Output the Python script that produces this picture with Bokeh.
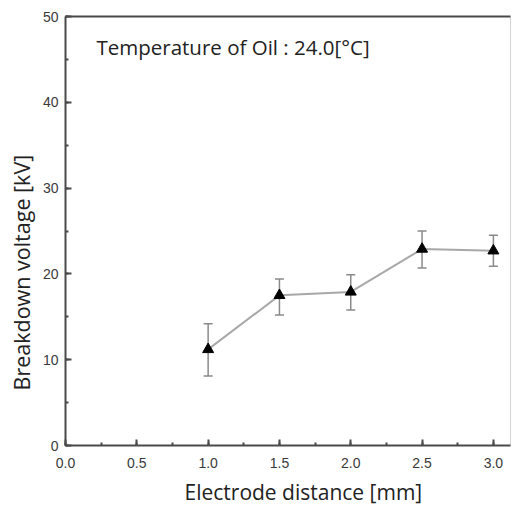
from bokeh.plotting import figure
from bokeh.models import (Whisker, ColumnDataSource, Label, LinearAxis, SingleIntervalTicker,
                          FixedTicker, Range1d, TeeHead, NumeralTickFormatter, Title)
from bokeh.embed import file_html
from bokeh.resources import INLINE

distance = [1.0, 1.5, 2.0, 2.5, 3.0]
voltage = [11.2, 17.5, 17.9, 22.9, 22.7]
err_upper = [14.2, 19.4, 19.9, 25.0, 24.5]
err_lower = [8.1, 15.2, 15.8, 20.7, 20.9]

annotation = "Temperature of Oil : 24.0[°C]"
x_title = "Electrode distance [mm]"
y_title = "Breakdown voltage [kV]"

src = ColumnDataSource(dict(x=distance, y=voltage, up=err_upper, lo=err_lower))

p = figure(width=512, height=512, output_backend="svg", toolbar_location=None,
           x_range=Range1d(0, 3.12), y_range=Range1d(0, 50),
           min_border_left=64, min_border_right=2, min_border_top=16, min_border_bottom=67)
p.title.visible = False
p.xgrid.visible = False
p.ygrid.visible = False
p.outline_line_color = "#d4d4d4"
p.background_fill_color = "white"

tick_font = "Liberation Sans"
title_font = "Open Sans"
axcol = "#4a4a4a"

xa = p.xaxis[0]
xa.ticker = SingleIntervalTicker(interval=0.5, num_minor_ticks=2)
xa.formatter = NumeralTickFormatter(format="0.0")
ya = p.yaxis[0]
ya.ticker = SingleIntervalTicker(interval=10, num_minor_ticks=2)

for ax in (xa, ya):
    ax.axis_line_color = axcol
    ax.axis_line_width = 2
    ax.major_tick_in = 6
    ax.major_tick_out = 0
    ax.minor_tick_in = 3
    ax.minor_tick_out = 0
    ax.major_tick_line_color = axcol
    ax.major_tick_line_width = 2
    ax.minor_tick_line_color = axcol
    ax.minor_tick_line_width = 2
    ax.major_label_text_font = tick_font
    ax.major_label_text_font_size = "14px"
    ax.major_label_text_color = "#3a3a3a"

xa.major_label_standoff = 12
ya.major_label_standoff = 7

top = LinearAxis(ticker=FixedTicker(ticks=[]))
top.axis_line_color = axcol
top.axis_line_width = 2
top.major_tick_line_color = None
top.minor_tick_line_color = None
p.add_layout(top, "above")

p.line("x", "y", source=src, line_color="#a8a8a8", line_width=2)
wh = Whisker(base="x", upper="up", lower="lo", source=src,
             line_color="#8a8a8a", line_width=1.5,
             upper_head=TeeHead(size=9, line_color="#8a8a8a", line_width=1.5),
             lower_head=TeeHead(size=9, line_color="#8a8a8a", line_width=1.5))
p.add_layout(wh)
p.scatter("x", "y", source=src, marker="triangle", size=11, fill_color="black", line_color="black")

lab = Label(x=0.217, y=46.5, text=annotation, text_font=title_font, text_font_size="20.5px",
            text_baseline="middle", text_color="#222222")
p.add_layout(lab)

# axis titles as side titles, shifted like in the reference
xt = Title(text=x_title, align="left", offset=119, standoff=10,
           text_font=title_font, text_font_size="21px", text_font_style="normal",
           text_color="#222222")
yt = Title(text=y_title, align="left", offset=55, standoff=8,
           text_font=title_font, text_font_size="21.5px", text_font_style="normal",
           text_color="#222222")
p.add_layout(xt, "below")
p.add_layout(yt, "left")

open("out.html", "w").write(file_html(p, INLINE))
